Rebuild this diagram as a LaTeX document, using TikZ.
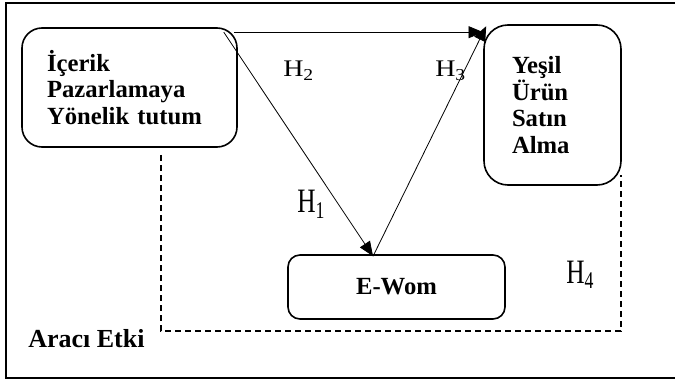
\documentclass[tikz,border=0pt]{standalone}
\usepackage{fontspec}
\setmainfont{Liberation Serif}
\usepackage{graphicx}
\usetikzlibrary{positioning,calc,arrows.meta}
\tikzstyle{kutu}= [draw, line width=1.2pt, font=\fontsize{18.5}{20}\selectfont\bfseries, align=left]
\tikzstyle{ok}= [line width=0.6pt, -{Triangle[length=11pt,width=9pt]}]
\tikzstyle{kesik}= [line width=0.9pt, dash pattern=on 4.5pt off 3pt]
\tikzstyle{hkucuk}= [font=\fontsize{21}{22}\selectfont, anchor=base west, inner sep=0pt]
\tikzstyle{hbuyuk}= [font=\fontsize{19}{20}\selectfont, anchor=base west, inner sep=0pt]
\newcommand{\hkisa}[1]{\scalebox{1}[0.85]{H\textsubscript{#1}}}
\newcommand{\huzun}[1]{\scalebox{1}[1.35]{H\textsubscript{#1}}}

\begin{document}
\begin{tikzpicture}[x=0.75pt,y=-0.75pt]
				\useasboundingbox (0,0) rectangle (675,381);
				\draw[line width=1.8pt] (6,3) rectangle (700,378);
				
				\node[kutu, rounded corners=15pt, minimum width=161.25pt, minimum height=89.25pt, text width=123.75pt, inner xsep=18.75pt] (ik) at (129.5,87.5) {İçerik\\Pazarlamaya\\Yönelik tutum};
				\node[kutu, rounded corners=18pt, minimum width=102.75pt, minimum height=120pt, text width=60.75pt, inner xsep=21pt] (ya) at (552.5,105) {Yeşil\\Ürün\\Satın\\Alma};
				\node[kutu, rounded corners=9pt, minimum width=162.75pt, minimum height=48pt, align=center] (ew) at (396.5,287) {E-Wom};
				
				\node[hkucuk] (h2) at (283,77) {\hkisa{2}};
				\node[hkucuk] (h3) at (435,77) {\hkisa{3}};
				\node[hbuyuk] (h1) at (297,213) {\huzun{1}};
				\node[hbuyuk] (h4) at (566,283) {\huzun{4}};
				\node[font=\fontsize{19.5}{22}\selectfont\bfseries, anchor=base west, inner sep=0pt] (ae) at (28,347) {Aracı Etki};
				
				\coordinate (k1) at (161,155);
				\coordinate (k2) at (161,331);
				\coordinate (k3) at (621,331);
				\coordinate (k4) at (621,175);
				
				\draw[ok]([xshift=-3pt,yshift=-3.75pt]ik.north east) -- ([yshift=-6pt]ya.north west);
				\draw[ok]([xshift=-10.5pt,yshift=-3.75pt]ik.north east) -- ([xshift=-17.6pt,yshift=-1.5pt]ew.north);
				\draw[ok]([xshift=-17.6pt,yshift=-1.5pt]ew.north) -- ([xshift=2.25pt,yshift=-1.5pt]ya.north west);
				\draw[kesik](k1) -- (k2) -- (k3) -- (k4);
			\end{tikzpicture}
\end{document}
